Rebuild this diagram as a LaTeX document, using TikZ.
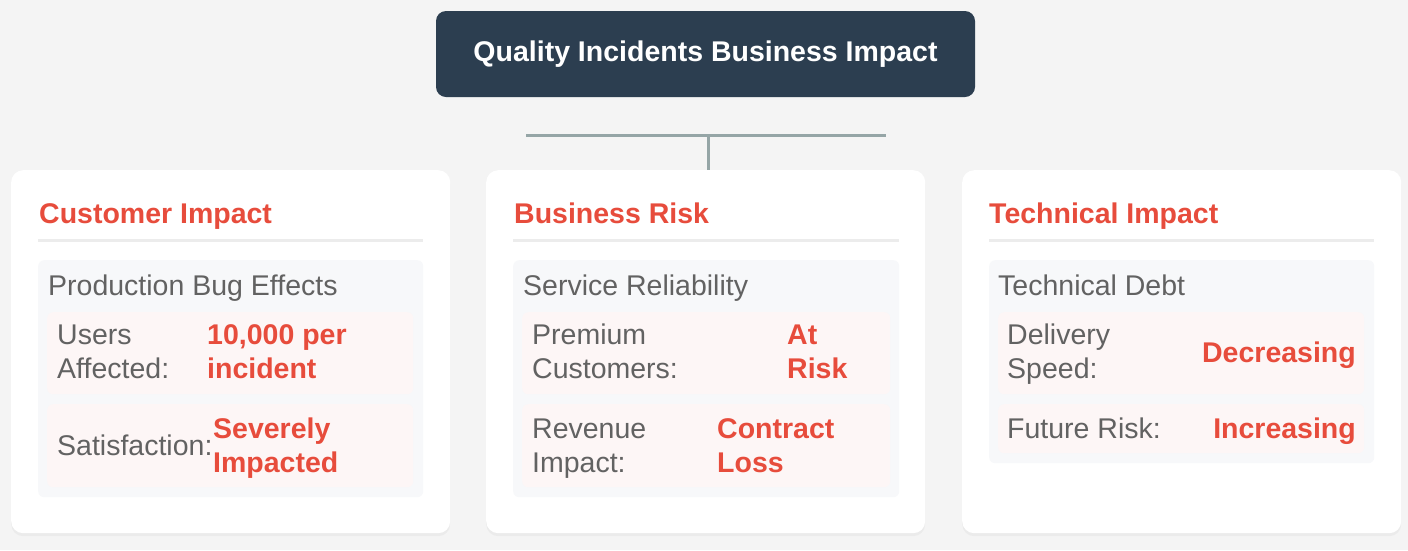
\documentclass[tikz,border=0pt]{standalone}
\usepackage{fontspec}
\setmainfont{Liberation Sans}
\usepackage{tikz}
\usetikzlibrary{shapes, calc, positioning, shadows}

\definecolor{navy}{RGB}{44,62,80}
\definecolor{alert}{RGB}{231,76,60}
\definecolor{ink}{RGB}{98,98,98}
\definecolor{paper}{RGB}{244,244,244}
\definecolor{rulegray}{RGB}{236,236,236}
\definecolor{panel}{RGB}{247,248,250}
\definecolor{blush}{RGB}{253,246,246}
\definecolor{wire}{RGB}{149,165,166}

\begin{document}
\begin{tikzpicture}[x=1pt, y=-1pt, font=\fontsize{28.5}{34}\selectfont]
	\tikzstyle{header} = [fill=navy, rounded corners=10pt, minimum width=539pt, minimum height=86pt, text=white, font=\fontsize{28.5}{34}\selectfont\bfseries]
	\tikzstyle{card} = [fill=white, rounded corners=12pt, anchor=north west, minimum width=439pt, minimum height=363pt, inner sep=0pt, drop shadow={shadow xshift=0pt, shadow yshift=-3pt, opacity=0.07}]
	\tikzstyle{group} = [fill=panel, rounded corners=6pt, anchor=north west, minimum width=385pt, inner sep=0pt]
	\tikzstyle{row} = [fill=blush, rounded corners=6pt, anchor=north west, minimum width=366pt, inner sep=0pt]
	\tikzstyle{heading} = [text=alert, anchor=base west, inner sep=0pt, font=\fontsize{28.5}{34}\selectfont\bfseries]
	\tikzstyle{label} = [text=ink, anchor=base west, inner sep=0pt, align=left]
	\tikzstyle{value} = [text=alert, anchor=base west, inner sep=0pt, align=left, font=\fontsize{28.5}{34}\selectfont\bfseries]
	\tikzstyle{rule} = [rulegray, line width=3pt]
	\tikzstyle{link} = [wire, line width=3pt]

	\path[fill=paper, use as bounding box] (0,0) rectangle (1408,550);

	\node[header] (title) at (705.5,54) {Quality Incidents Business Impact};

	\begin{scope}
		\path
			node[card] (customer) at (11,170) {}
			node[heading] (customer-head) at (39,223) {Customer Impact}
			node[group, minimum height=237pt] (bugs) at (38,260) {}
			node[label] (bugs-title) at (48,295) {Production Bug Effects}
			node[row, minimum height=82pt] (users) at (47,312) {}
			node[row, minimum height=83pt] (satisfaction) at (47,404) {}
			node[label] (users-key) at (57,378) {Users\\Affected:}
			node[value] (users-val) at (207,378) {10,000 per\\incident}
			node[label] (satisfaction-key) at (57,455) {Satisfaction:}
			node[value] (satisfaction-val) at (213,472) {Severely\\Impacted}
		;
		\draw[rule] (38,240) -- (423,240);
	\end{scope}

	\begin{scope}
		\path
			node[card] (risk) at (486,170) {}
			node[heading] (risk-head) at (514,223) {Business Risk}
			node[group, minimum height=237pt, minimum width=386pt] (service) at (513,260) {}
			node[label] (service-title) at (523,295) {Service Reliability}
			node[row, minimum height=82pt, minimum width=368pt] (premium) at (522,312) {}
			node[row, minimum height=83pt, minimum width=368pt] (revenue) at (522,404) {}
			node[label] (premium-key) at (532,378) {Premium\\Customers:}
			node[value] (premium-val) at (787,378) {At\\Risk}
			node[label] (revenue-key) at (532,472) {Revenue\\Impact:}
			node[value] (revenue-val) at (717,472) {Contract\\Loss}
		;
		\draw[rule] (513,240) -- (899,240);
	\end{scope}

	\begin{scope}
		\path
			node[card] (technical) at (962,170) {}
			node[heading] (technical-head) at (989,223) {Technical Impact}
			node[group, minimum height=203pt] (debt) at (989,260) {}
			node[label] (debt-title) at (998,295) {Technical Debt}
			node[row, minimum height=82pt] (delivery) at (998,312) {}
			node[row, minimum height=49pt] (future) at (998,404) {}
			node[label] (delivery-key) at (1007,378) {Delivery\\Speed:}
			node[value, anchor=base east] (delivery-val) at (1356,362) {Decreasing}
			node[label] (future-key) at (1007,438) {Future Risk:}
			node[value, anchor=base east] (future-val) at (1356,438) {Increasing}
		;
		\draw[rule] (989,240) -- (1374,240);
	\end{scope}

	\coordinate (bus-left) at (526,135);
	\coordinate (bus-right) at (886,135);
	\coordinate (bus-mid) at (708,135);
	\draw[link] (bus-left) -- (bus-right);
	\draw[link] (bus-mid) -- (bus-mid |- risk.north);
\end{tikzpicture}
\end{document}
